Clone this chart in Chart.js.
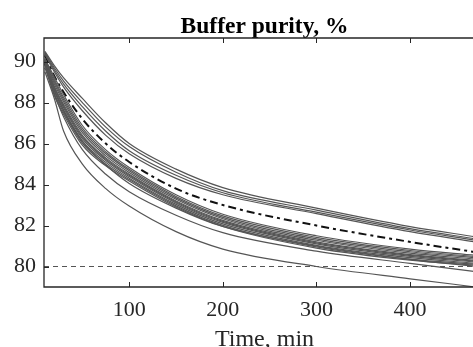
<!DOCTYPE html>
<html>
<head>
<meta charset="utf-8">
<script src="https://cdn.jsdelivr.net/npm/chart.js@4/dist/chart.umd.min.js"></script>
<style>
html,body{margin:0;padding:0;background:#fff;overflow:hidden;width:473px;height:347px;}
canvas{display:block;}
</style>
</head>
<body>
<canvas id="c" width="485" height="347"></canvas>
<script>
// ---- data ----
const timeMin = [10, 20, 30, 50, 75, 100, 150, 200, 300, 400, 470];

const upper1 = [90.50, 89.80, 89.20, 88.20, 87.00, 86.00, 84.75, 83.85, 82.85, 81.95, 81.45];
const upper2 = [90.45, 89.70, 89.05, 88.00, 86.80, 85.85, 84.60, 83.70, 82.75, 81.85, 81.35];
const upper3 = [90.40, 89.60, 88.90, 87.80, 86.60, 85.65, 84.45, 83.60, 82.65, 81.78, 81.28];
const upper4 = [90.35, 89.50, 88.75, 87.60, 86.40, 85.50, 84.30, 83.50, 82.58, 81.70, 81.20];

const cluster1  = [90.15, 89.25, 88.38, 86.88, 85.69, 84.83, 83.50, 82.55, 81.50, 80.85, 80.54];
const cluster2  = [90.11, 89.13, 88.25, 86.75, 85.59, 84.74, 83.42, 82.47, 81.42, 80.78, 80.48];
const cluster3  = [90.08, 89.03, 88.14, 86.64, 85.50, 84.67, 83.35, 82.40, 81.35, 80.72, 80.42];
const cluster4  = [90.04, 88.92, 88.03, 86.53, 85.40, 84.59, 83.28, 82.33, 81.28, 80.65, 80.36];
const cluster5  = [90.00, 88.80, 87.90, 86.40, 85.30, 84.50, 83.20, 82.25, 81.20, 80.58, 80.30];
const cluster6  = [89.98, 88.73, 87.82, 86.32, 85.24, 84.45, 83.15, 82.20, 81.15, 80.54, 80.26];
const cluster7  = [89.95, 88.65, 87.74, 86.24, 85.17, 84.39, 83.10, 82.15, 81.10, 80.49, 80.22];
const cluster8  = [89.92, 88.55, 87.63, 86.13, 85.08, 84.31, 83.03, 82.08, 81.03, 80.43, 80.16];
const cluster9  = [89.88, 88.44, 87.52, 86.02, 84.99, 84.24, 82.96, 82.01, 80.96, 80.36, 80.11];
const cluster10 = [89.85, 88.35, 87.42, 85.92, 84.91, 84.17, 82.90, 81.95, 80.90, 80.31, 80.06];

const lower1 = [89.90, 88.60, 87.60, 86.10, 84.95, 84.05, 82.85, 81.95, 81.00, 80.35, 80.00];
const lower2 = [89.70, 88.40, 87.30, 85.70, 84.50, 83.65, 82.50, 81.65, 80.75, 80.15, 79.75];
const lower3 = [89.50, 88.20, 86.60, 85.00, 83.80, 82.95, 81.70, 80.85, 80.00, 79.40, 79.00];

const meanCurve = [90.30, 89.30, 88.50, 87.20, 86.00, 85.10, 83.80, 83.00, 82.00, 81.20, 80.70];

const thresholdValue = 80;
const xRange = [9, 480];
const yRange = [79, 91.15];
const xTickValues = [100, 200, 300, 400];
const yTickValues = [80, 82, 84, 86, 88, 90];

const titleText = 'Buffer purity, %';
const xTitleText = 'Time, min';

// ---- build chart ----
const toPoints = ys => timeMin.map((t, i) => ({x: t, y: ys[i]}));
const grayCurves = [upper1, upper2, upper3, upper4,
  cluster1, cluster2, cluster3, cluster4, cluster5, cluster6, cluster7, cluster8, cluster9, cluster10,
  lower1, lower2, lower3];

const AXC = '#262626';
const FONT = "'Liberation Serif', 'Times New Roman', serif";

const datasets = [];
datasets.push({
  label: 'limit',
  data: [{x: xRange[0], y: thresholdValue}, {x: xRange[1], y: thresholdValue}],
  borderColor: '#555555', borderWidth: 1, borderDash: [5, 4], pointRadius: 0, tension: 0
});
grayCurves.forEach((c, i) => datasets.push({
  label: 'run ' + (i + 1),
  data: toPoints(c),
  borderColor: '#555555', borderWidth: 1.2, pointRadius: 0,
  cubicInterpolationMode: 'monotone'
}));
datasets.push({
  label: 'mean',
  data: toPoints(meanCurve),
  borderColor: '#111111', borderWidth: 2, borderDash: [8, 4, 3, 4], pointRadius: 0,
  cubicInterpolationMode: 'monotone'
});

const frame = {
  id: 'frame',
  afterDatasetsDraw(chart) {
    const {ctx, chartArea: a, scales: {x, y}} = chart;
    ctx.save();
    ctx.strokeStyle = AXC;
    ctx.lineWidth = 1.3;
    ctx.beginPath();
    ctx.moveTo(a.right, a.top);
    ctx.lineTo(a.left, a.top);
    ctx.lineTo(a.left, a.bottom);
    ctx.lineTo(a.right, a.bottom);
    ctx.stroke();
    ctx.lineWidth = 1;
    ctx.beginPath();
    xTickValues.forEach(v => {
      const px = Math.round(x.getPixelForValue(v)) + 0.5;
      ctx.moveTo(px, a.bottom); ctx.lineTo(px, a.bottom - 5);
      ctx.moveTo(px, a.top); ctx.lineTo(px, a.top + 5);
    });
    yTickValues.forEach(v => {
      const py = Math.round(y.getPixelForValue(v)) + 0.5;
      ctx.moveTo(a.left, py); ctx.lineTo(a.left + 5, py);
    });
    ctx.stroke();
    ctx.restore();
  }
};

new Chart(document.getElementById('c'), {
  type: 'line',
  data: {datasets},
  plugins: [frame],
  options: {
    responsive: false,
    animation: false,
    devicePixelRatio: 1,
    layout: {padding: 0},
    plugins: {
      legend: {display: false},
      tooltip: {enabled: false},
      title: {
        display: true, text: titleText, fullSize: false, color: '#000',
        font: {family: FONT, size: 23.5, weight: 'bold', lineHeight: 1.0},
        padding: {top: 15.2, bottom: -0.7}
      }
    },
    scales: {
      x: {
        type: 'linear', position: 'bottom',
        min: xRange[0], max: xRange[1],
        afterBuildTicks: s => { s.ticks = xTickValues.map(v => ({value: v})); },
        afterFit: s => { s.height = 60; },
        grid: {display: false, drawTicks: false},
        border: {display: false},
        ticks: {color: AXC, padding: 10.4, font: {family: FONT, size: 22}, maxRotation: 0, autoSkip: false},
        title: {display: true, text: xTitleText, color: AXC,
          font: {family: FONT, size: 24, lineHeight: 1.0}, padding: {top: 0, bottom: -4.5}}
      },
      y: {
        type: 'linear',
        min: yRange[0], max: yRange[1],
        afterBuildTicks: s => { s.ticks = yTickValues.map(v => ({value: v})); },
        afterFit: s => { s.width = 44; },
        grid: {display: false, drawTicks: false},
        border: {display: false},
        ticks: {color: AXC, padding: 8, font: {family: FONT, size: 22}}
      }
    }
  }
});
</script>
</body>
</html>
